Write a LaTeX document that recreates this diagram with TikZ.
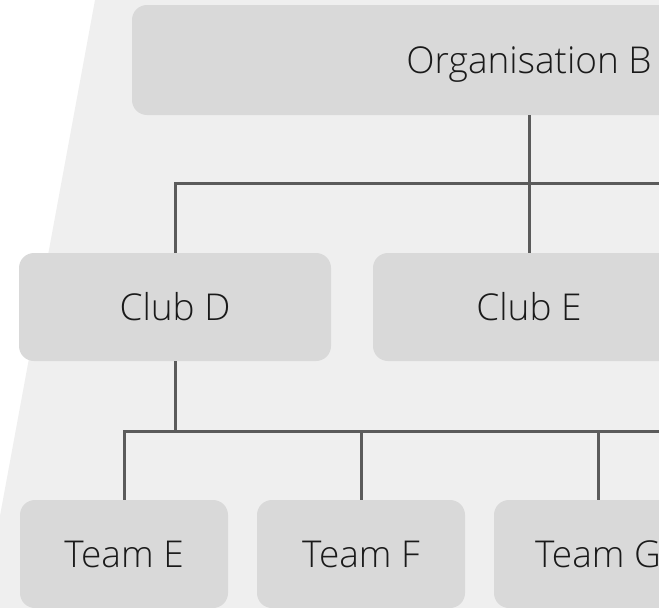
\documentclass[tikz,border=0pt]{standalone}
\usepackage{fontspec}
\setmainfont{Open Sans}[UprightFont=* Light]
\definecolor{bgc}{HTML}{EFEFEF}
\definecolor{boxc}{HTML}{D9D9D9}
\definecolor{linec}{HTML}{5B5B5B}
\definecolor{txtc}{HTML}{1A1A1A}
\begin{document}
\begin{tikzpicture}[x=1pt,y=-1pt,
  orgbox/.style={fill=boxc,draw=none,rounded corners=15pt,inner sep=0pt,
    text=txtc,font=\fontsize{37}{41}\selectfont,text height=26.5pt,text depth=0pt,
    minimum height=#1},
  orgbox/.default=108pt,
  conn/.style={draw=linec,line width=3pt}]
\useasboundingbox (0,0) rectangle (659,608);
\clip (0,0) rectangle (659,608);
\fill[bgc] (95,0) -- (1000,0) -- (1000,608) -- (-17,608) -- cycle;
\node[orgbox=110pt,minimum width=794pt] (org) at (529,60) {Organisation B};
\node[orgbox,minimum width=312pt] (clubD) at (175,307) {Club D};
\node[orgbox,minimum width=312pt] (clubE) at (529,307) {Club E};
\node[orgbox,minimum width=208pt] (teamE) at (124,554) {Team E};
\node[orgbox,minimum width=208pt] (teamF) at (361,554) {Team F};
\node[orgbox,minimum width=208pt] (teamG) at (598,554) {Team G};
\coordinate (r1) at (700,183);
\coordinate (r2) at (700,431);
\draw[conn] (clubD.north) |- (r1);
\draw[conn] (org.south) -- (clubE.north);
\draw[conn] (clubD.south) -- (clubD.south |- r2);
\draw[conn] (teamE.north) |- (r2);
\draw[conn] (teamF.north) -- (teamF.north |- r2);
\draw[conn] (teamG.north) -- (teamG.north |- r2);
\end{tikzpicture}
\end{document}
